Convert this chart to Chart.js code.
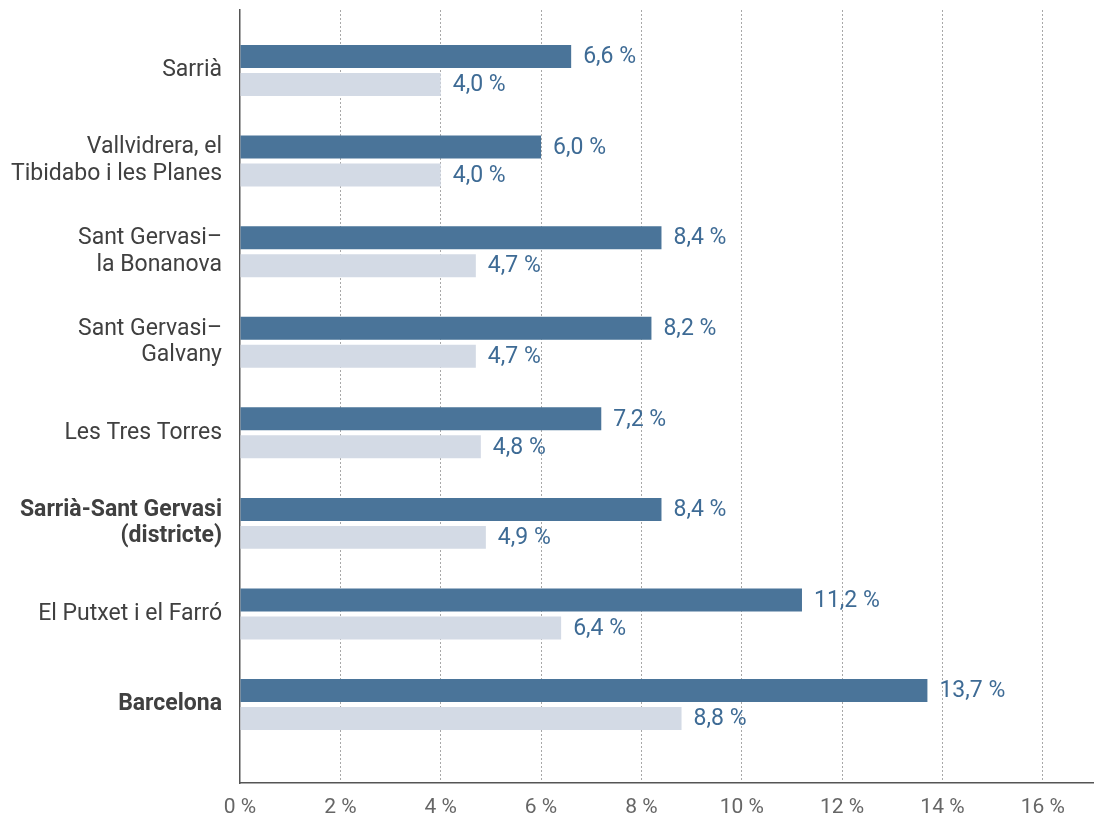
<!DOCTYPE html>
<html>
<head>
<meta charset="utf-8">
<script src="https://cdn.jsdelivr.net/npm/chart.js@4/dist/chart.umd.min.js"></script>
<style>
html,body{margin:0;padding:0;background:#fff;}
#wrap{width:1094px;height:818px;position:relative;}
</style>
</head>
<body>
<div id="wrap"><canvas id="c" width="1094" height="818"></canvas></div>
<script>
const categories = [
  ["Sarrià"],
  ["Vallvidrera, el", "Tibidabo i les Planes"],
  ["Sant Gervasi–", "la Bonanova"],
  ["Sant Gervasi–", "Galvany"],
  ["Les Tres Torres"],
  ["Sarrià-Sant Gervasi", "(districte)"],
  ["El Putxet i el Farró"],
  ["Barcelona"]
];
const boldCategories = [5, 7];
const seriesDark = [6.6, 6.0, 8.4, 8.2, 7.2, 8.4, 11.2, 13.7];
const seriesLight = [4.0, 4.0, 4.7, 4.7, 4.8, 4.9, 6.4, 8.8];
const xTicks = [0, 2, 4, 6, 8, 10, 12, 14, 16];

const FONT = 'Roboto, "Open Sans", sans-serif';
const fmt = v => v.toFixed(1).replace('.', ',') + ' %';

const valueLabels = {
  id: 'valueLabels',
  afterDatasetsDraw(chart) {
    const ctx = chart.ctx;
    ctx.save();
    ctx.font = '400 23px ' + FONT;
    ctx.fillStyle = '#3e6b95';
    ctx.textAlign = 'left';
    ctx.textBaseline = 'middle';
    chart.data.datasets.forEach((ds, di) => {
      const meta = chart.getDatasetMeta(di);
      meta.data.forEach((el, i) => {
        ctx.fillText(fmt(ds.data[i].x), el.x + 12, el.y + 1);
      });
    });
    ctx.restore();
  }
};

new Chart(document.getElementById('c'), {
  type: 'bar',
  data: {
    datasets: [
      {
        data: seriesDark.map((v, i) => ({ x: v, y: i })),
        backgroundColor: '#4a7499',
        categoryPercentage: 0.618,
        barPercentage: 0.82
      },
      {
        data: seriesLight.map((v, i) => ({ x: v, y: i })),
        backgroundColor: '#d3dae5',
        categoryPercentage: 0.618,
        barPercentage: 0.82
      }
    ]
  },
  options: {
    indexAxis: 'y',
    responsive: false,
    animation: false,
    layout: { padding: { top: 10, right: 1, left: 0, bottom: 0 } },
    plugins: { legend: { display: false }, tooltip: { enabled: false } },
    scales: {
      x: {
        type: 'linear',
        min: 0,
        max: 17,
        afterBuildTicks(scale) {
          scale.ticks = xTicks.map(v => ({ value: v }));
        },
        afterFit(scale) {
          scale.height = 35;
          scale.paddingLeft = 0;
          scale.paddingRight = 0;
        },
        grid: {
          drawTicks: false,
          color: ctx => (ctx.tick && ctx.tick.value === 0) ? 'rgba(0,0,0,0)' : '#a8a8a8',
          lineWidth: 1
        },
        border: { display: true, color: '#555', width: 1.5, dash: [2, 2] },
        ticks: {
          padding: 12,
          color: '#666',
          font: { family: FONT, size: 21 },
          callback: v => v + ' %'
        }
      },
      y: {
        type: 'linear',
        reverse: true,
        offset: false,
        min: -0.668,
        max: 7.866,
        afterBuildTicks(scale) {
          scale.ticks = categories.map((c, i) => ({ value: i }));
        },
        afterFit(scale) {
          scale.width = 240;
          scale.paddingTop = 0;
          scale.paddingBottom = 0;
        },
        grid: { display: false, drawTicks: false, offset: false },
        border: { display: true, color: '#555', width: 1.5 },
        ticks: {
          padding: 18,
          color: '#404040',
          font: ctx => ({
            family: FONT,
            size: 23,
            lineHeight: 1.16,
            weight: boldCategories.includes(ctx.index) ? 'bold' : 'normal'
          }),
          callback: (v, i) => categories[i]
        }
      }
    }
  },
  plugins: [valueLabels]
});
</script>
</body>
</html>
